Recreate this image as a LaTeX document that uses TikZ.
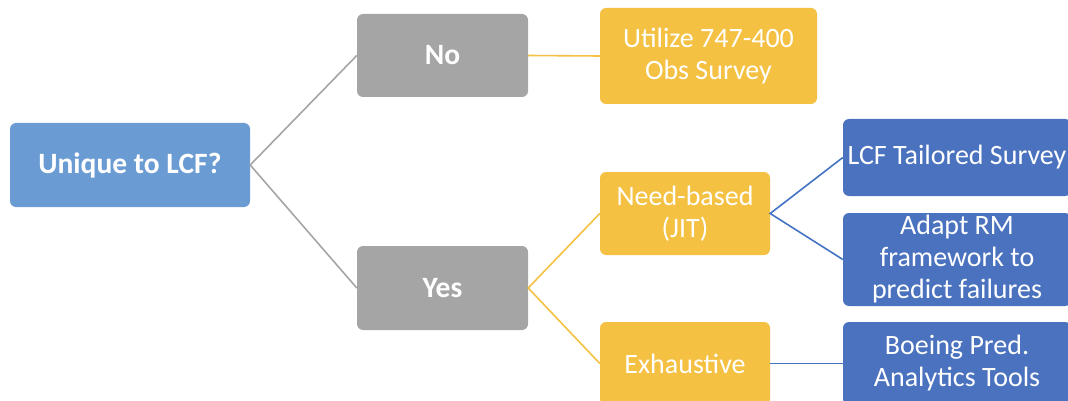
\documentclass[tikz,border=0pt]{standalone}
\usepackage{fontspec}
\setmainfont{Carlito}
\definecolor{ublue}{HTML}{6A9BD2}
\definecolor{ggray}{HTML}{A5A5A5}
\definecolor{yel}{HTML}{F4C143}
\definecolor{dblue}{HTML}{4A72BE}
\definecolor{lblue}{HTML}{4472C4}
\tikzset{
  box/.style={rectangle, rounded corners=6pt, inner sep=0pt, text=white, align=center,
    font=\fontsize{28}{32}\selectfont},
  boldbox/.style={box, font=\fontsize{29.5}{32}\selectfont\bfseries},
  conn/.style={line width=1.6pt}
}
\begin{document}
\begin{tikzpicture}[x=1pt,y=-1pt]
\useasboundingbox (0,0) rectangle (1068,401);
\begin{scope}
\clip (0,0) rectangle (1068,401);
\node[boldbox, fill=ublue, minimum width=240pt, minimum height=84pt] (U) at (130,165) {Unique to LCF?};
\node[boldbox, fill=ggray, minimum width=171pt, minimum height=83pt] (No) at (442.5,55.5) {No};
\node[box, fill=yel, minimum width=217pt, minimum height=96pt] (Ut) at (708.5,56) {Utilize 747-400\\Obs Survey};
\node[boldbox, fill=ggray, minimum width=171pt, minimum height=84pt] (Yes) at (442.5,288) {Yes};
\node[box, fill=yel, minimum width=170pt, minimum height=83pt] (Need) at (685,213.5) {Need-based\\(JIT)};
\node[box, fill=yel, minimum width=170pt, minimum height=83pt] (Exh) at (685,363.5) {Exhaustive};
\node[box, fill=dblue, minimum width=228pt, minimum height=77pt] (LCF) at (957,157.5) {LCF Tailored Survey};
\node[box, fill=dblue, minimum width=228pt, minimum height=93pt] (Ad) at (957,259.5) {Adapt RM\\framework to\\predict failures};
\node[box, fill=dblue, minimum width=228pt, minimum height=83pt] (Bo) at (957,363.5) {Boeing Pred.\\Analytics Tools};
\draw[conn, ggray] (No.west) -- (U.east) -- (Yes.west);
\draw[conn, yel] (No.east) -- (Ut.west);
\draw[conn, yel] (Need.west) -- (Yes.east) -- (Exh.west);
\draw[conn, lblue] (LCF.west) -- (Need.east) -- (Ad.west);
\draw[conn, lblue] (Exh.east) -- (Bo.west);
\end{scope}
\end{tikzpicture}
\end{document}
